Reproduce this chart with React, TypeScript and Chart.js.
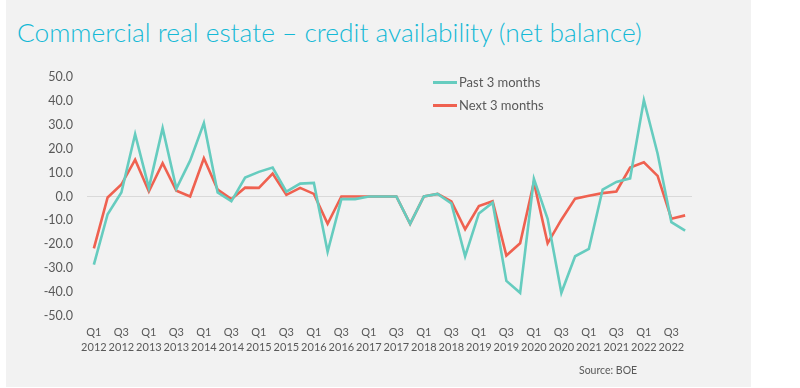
import React, { useEffect, useRef } from "react";
import { Chart, registerables } from "chart.js";

Chart.register(...registerables);

const quarters = [
  "Q1 2012", "Q2 2012", "Q3 2012", "Q4 2012",
  "Q1 2013", "Q2 2013", "Q3 2013", "Q4 2013",
  "Q1 2014", "Q2 2014", "Q3 2014", "Q4 2014",
  "Q1 2015", "Q2 2015", "Q3 2015", "Q4 2015",
  "Q1 2016", "Q2 2016", "Q3 2016", "Q4 2016",
  "Q1 2017", "Q2 2017", "Q3 2017", "Q4 2017",
  "Q1 2018", "Q2 2018", "Q3 2018", "Q4 2018",
  "Q1 2019", "Q2 2019", "Q3 2019", "Q4 2019",
  "Q1 2020", "Q2 2020", "Q3 2020", "Q4 2020",
  "Q1 2021", "Q2 2021", "Q3 2021", "Q4 2021",
  "Q1 2022", "Q2 2022", "Q3 2022", "Q4 2022",
];

const past3Months = [
  -28.5, -7.4, 1.7, 26.1, 3.6, 28.6, 3.3, 15.0,
  30.7, 1.7, -2.0, 7.9, 10.3, 12.1, 2.0, 5.4,
  5.7, -23.1, -1.1, -1.1, 0, 0, 0, -11.4,
  0, 1.1, -2.9, -25.0, -7.1, -2.6, -35.3, -40.3,
  7.4, -9.3, -40.3, -25.0, -21.9, 2.9, 6.1, 7.6,
  40.3, 17.9, -10.7, -14.3,
];

const next3Months = [
  -21.7, -0.4, 5.0, 15.4, 2.1, 13.9, 2.4, 0,
  16.0, 2.9, -1.1, 3.7, 3.6, 9.6, 0.7, 3.6,
  1.1, -11.4, 0, 0, 0, 0, 0, -11.4,
  0, 1.1, -2.1, -13.7, -4.0, -2.0, -24.7, -19.6,
  6.0, -19.6, -9.7, -0.9, 0.3, 1.4, 2.1, 12.1,
  14.3, 8.6, -9.3, -7.9,
];

const seriesNames = ["Past 3 months", "Next 3 months"];
const seriesColors = ["#66CCBF", "#EF6150"];

const TEXT = "#595959";
const FONT = "Lato, 'Open Sans', sans-serif";

export default function App() {
  const canvasRef = useRef<HTMLCanvasElement | null>(null);

  useEffect(() => {
    if (!canvasRef.current) return;
    const chart = new Chart(canvasRef.current, {
      type: "line",
      data: {
        labels: quarters,
        datasets: [
          {
            label: seriesNames[0],
            data: past3Months,
            borderColor: seriesColors[0],
            backgroundColor: seriesColors[0],
            borderWidth: 2.6,
            pointRadius: 0,
            tension: 0,
          },
          {
            label: seriesNames[1],
            data: next3Months,
            borderColor: seriesColors[1],
            backgroundColor: seriesColors[1],
            borderWidth: 2.6,
            pointRadius: 0,
            tension: 0,
          },
        ],
      },
      options: {
        animation: false,
        responsive: false,
        maintainAspectRatio: false,
        layout: { padding: { left: 0, right: 108, top: 77, bottom: 0 } },
        plugins: {
          legend: { display: false },
          title: { display: false },
          tooltip: { enabled: false },
        },
        scales: {
          x: {
            offset: true,
            grid: { display: false, drawTicks: false },
            border: { display: false },
            afterFit: (scale: any) => {
              scale.height = 72;
            },
            ticks: {
              autoSkip: false,
              maxRotation: 0,
              minRotation: 0,
              padding: 9,
              color: TEXT,
              font: { family: FONT, size: 11, lineHeight: 1.36 },
              callback: (_v: any, i: number) =>
                i % 2 === 0 ? quarters[i].split(" ") : "",
            },
          },
          y: {
            min: -50,
            max: 50,
            afterFit: (scale: any) => {
              scale.width = 87;
            },
            border: { display: false },
            grid: {
              drawTicks: false,
              color: (ctx: any) =>
                ctx.tick && ctx.tick.value === 0 ? "#D9D9D9" : "rgba(0,0,0,0)",
              lineWidth: 1,
            },
            ticks: {
              stepSize: 10,
              padding: 14,
              color: TEXT,
              font: { family: FONT, size: 12.5 },
              callback: (v: any) => Number(v).toFixed(1),
            },
          },
        },
      },
    });
    return () => chart.destroy();
  }, []);

  return (
    <div
      style={{
        position: "absolute",
        left: 0,
        top: 0,
        width: 800,
        height: 388,
        background: "#FFFFFF",
        overflow: "hidden",
      }}
    >
      <div
        style={{
          position: "absolute",
          left: 6,
          top: 0,
          width: 745,
          height: 387,
          background: "#F2F2F2",
        }}
      />
      <div
        style={{
          position: "absolute",
          left: 17,
          top: 14,
          fontFamily: FONT,
          fontWeight: 300,
          fontSize: 26.3,
          color: "#14B9D6",
          whiteSpace: "nowrap",
          lineHeight: "36px",
        }}
      >
        Commercial real estate – credit availability (net balance)
      </div>
      <canvas
        ref={canvasRef}
        width={800}
        height={388}
        style={{ position: "absolute", left: 0, top: 0, width: 800, height: 388 }}
      />
      {seriesNames.map((name, i) => (
        <div
          key={name}
          style={{
            position: "absolute",
            left: 433,
            top: 73 + i * 23,
            height: 18,
            display: "flex",
            alignItems: "center",
            fontFamily: FONT,
            fontSize: 13,
            color: TEXT,
            whiteSpace: "nowrap",
          }}
        >
          <span
            style={{
              display: "inline-block",
              width: 24,
              height: 3,
              background: seriesColors[i],
              marginRight: 2,
            }}
          />
          {name}
        </div>
      ))}
      <div
        style={{
          position: "absolute",
          left: 579,
          top: 364,
          fontFamily: FONT,
          fontSize: 10.5,
          color: TEXT,
          whiteSpace: "nowrap",
        }}
      >
        Source: BOE
      </div>
    </div>
  );
}
